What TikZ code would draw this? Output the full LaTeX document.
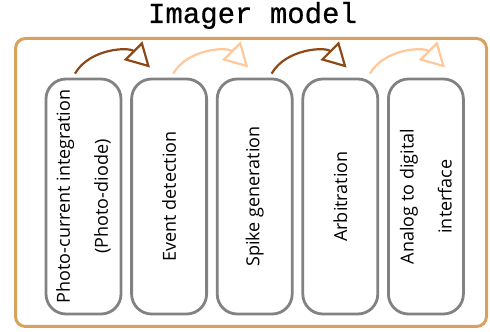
\documentclass[tikz,border=0pt]{standalone}
\usepackage{fontspec}
\newfontfamily\boxfont{Open Sans}
\newfontfamily\titlefont[FakeBold=0.6]{Liberation Mono}
\usetikzlibrary{arrows.meta}
\definecolor{framecol}{RGB}{214,162,92}
\definecolor{boxgray}{RGB}{130,130,130}
\definecolor{darkarrow}{RGB}{140,72,22}
\definecolor{lightarrow}{RGB}{255,200,155}
\begin{document}
\begin{tikzpicture}[x=1pt,y=1pt,
  frame/.style={draw=framecol, line width=3pt, rounded corners=10pt,
    minimum width=471pt, minimum height=288pt, inner sep=0pt},
  stage/.style={draw=boxgray, line width=2.8pt, rounded corners=20pt,
    minimum width=75pt, minimum height=235pt, inner sep=0pt,
    font=\boxfont\fontsize{18}{22}\selectfont},
  flow/.style={line width=2.2pt, -{Triangle[open, length=24pt, width=26pt]}},
  ttl/.style={font=\titlefont\fontsize{29}{32}\selectfont, anchor=base, inner sep=0pt}
  ]
\useasboundingbox (0,0) rectangle (490,332);
\node[ttl] (title) at (252.5,309) {Imager model};
\node[frame] (frame) at (251,149.5) {};
\node[stage] (b1) at (83.5,135.5) {\rotatebox{90}{\shortstack{Photo-current integration\\[17pt](Photo-diode)}}};
\node[stage] (b2) at (169.1,135.5) {\rotatebox{90}{Event detection}};
\node[stage] (b3) at (254.7,135.5) {\rotatebox{90}{Spike generation}};
\node[stage] (b4) at (340.3,135.5) {\rotatebox{90}{Arbitration}};
\node[stage] (b5) at (425.9,135.5) {\rotatebox{90}{\shortstack{Analog to digital\\[17pt]interface}}};
\draw[flow, darkarrow] ([xshift=-8.5pt,yshift=4pt]b1.north) to[out=60,in=135] ([xshift=-19.1pt,yshift=10pt]b2.north);
\draw[flow, lightarrow] ([xshift=4.2pt,yshift=4pt]b2.north) to[out=60,in=135] ([xshift=-6.4pt,yshift=10pt]b3.north);
\draw[flow, darkarrow] ([xshift=16.9pt,yshift=4pt]b3.north) to[out=60,in=135] ([xshift=6.3pt,yshift=10pt]b4.north);
\draw[flow, lightarrow] ([xshift=29.6pt,yshift=4pt]b4.north) to[out=60,in=135] ([xshift=19.1pt,yshift=10pt]b5.north);
\end{tikzpicture}
\end{document}
